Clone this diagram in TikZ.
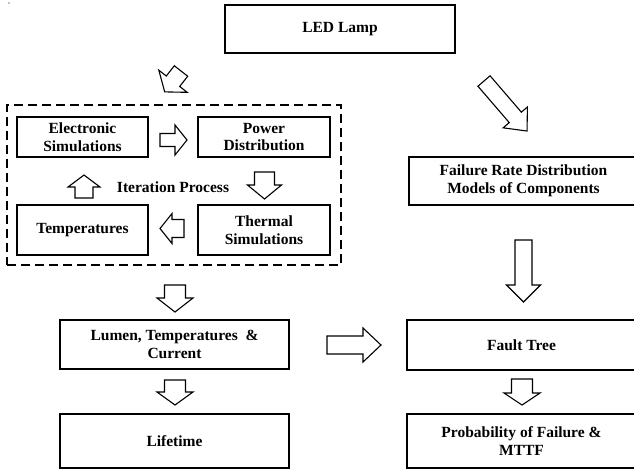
\documentclass[tikz,border=0pt]{standalone}
\usepackage{fontspec}
\setmainfont{Liberation Serif}
\begin{document}
\begin{tikzpicture}[x=1pt,y=-1pt,
  box/.style={draw, line width=1.6pt, align=center, inner sep=0pt,
    font=\bfseries\fontsize{15.5}{17.5}\selectfont},
  dashbox/.style={draw, line width=1.6pt, dash pattern=on 9pt off 5pt, inner sep=0pt},
  lbl/.style={inner sep=0pt, font=\bfseries\fontsize{15.5}{17.5}\selectfont},
  barrow/.style={draw, line width=1.1pt, fill=white, line join=miter}]
\newcommand\blockarr[7]{%
  \begin{scope}[shift={(#1,#2)},rotate=#3]
    \draw[barrow] (0,#5) -- ({#4-#7},#5) -- ({#4-#7},#6) -- (#4,0)
      -- ({#4-#7},-#6) -- ({#4-#7},-#5) -- (0,-#5) -- cycle;
  \end{scope}}
\useasboundingbox (0,0) rectangle (634,471);
\fill (9,3) circle (0.6);
% main boxes
\node[box, minimum width=230pt, minimum height=48pt] (led) at (340,29) {LED Lamp};
\node[dashbox, minimum width=334pt, minimum height=160pt] (iter) at (174,185) {};
\node[box, minimum width=131pt, minimum height=40pt] (elec) at (82.5,137) {Electronic\\Simulations};
\node[box, minimum width=132pt, minimum height=40pt] (power) at (264,137) {Power\\Distribution};
\node[box, minimum width=131pt, minimum height=50pt] (temps) at (82.5,230) {Temperatures};
\node[box, minimum width=132pt, minimum height=50pt] (thermal) at (264,230) {Thermal\\Simulations};
\node[lbl] (itlabel) at (173,187) {Iteration Process};
\node[box, minimum width=229pt, minimum height=48pt] (fail) at (523.5,181) {Failure Rate Distribution\\Models of Components};
\node[box, minimum width=229pt, minimum height=49pt] (lumen) at (174.5,344.5) {Lumen, Temperatures\ \ \&\\Current};
\node[box, minimum width=229pt, minimum height=54pt] (life) at (174.5,441) {Lifetime};
\node[box, minimum width=229pt, minimum height=50pt] (fault) at (521.5,345) {Fault Tree};
\node[box, minimum width=229pt, minimum height=54pt] (prob) at (521.5,441) {Probability of Failure \&\\MTTF};
% block arrows
\blockarr{181}{71}{-128}{26.5}{8.5}{18}{13.5}
\blockarr{484}{81}{-49.3}{66}{8}{16}{18}
\blockarr{160}{140}{0}{27}{6.5}{15}{12}
\blockarr{264.5}{172}{-90}{27}{10}{17}{14}
\blockarr{84}{198}{90}{23}{9}{16}{12}
\blockarr{184}{228.5}{180}{24}{9}{15}{12}
\blockarr{175}{285}{-90}{27}{10.5}{18}{14}
\blockarr{175}{380}{-90}{25}{10.5}{18}{13}
\blockarr{523.5}{240}{-90}{62}{8.5}{17}{17}
\blockarr{327}{345}{0}{54}{9}{17}{18}
\blockarr{522}{379}{-90}{26}{10.5}{18}{12}
\end{tikzpicture}
\end{document}
